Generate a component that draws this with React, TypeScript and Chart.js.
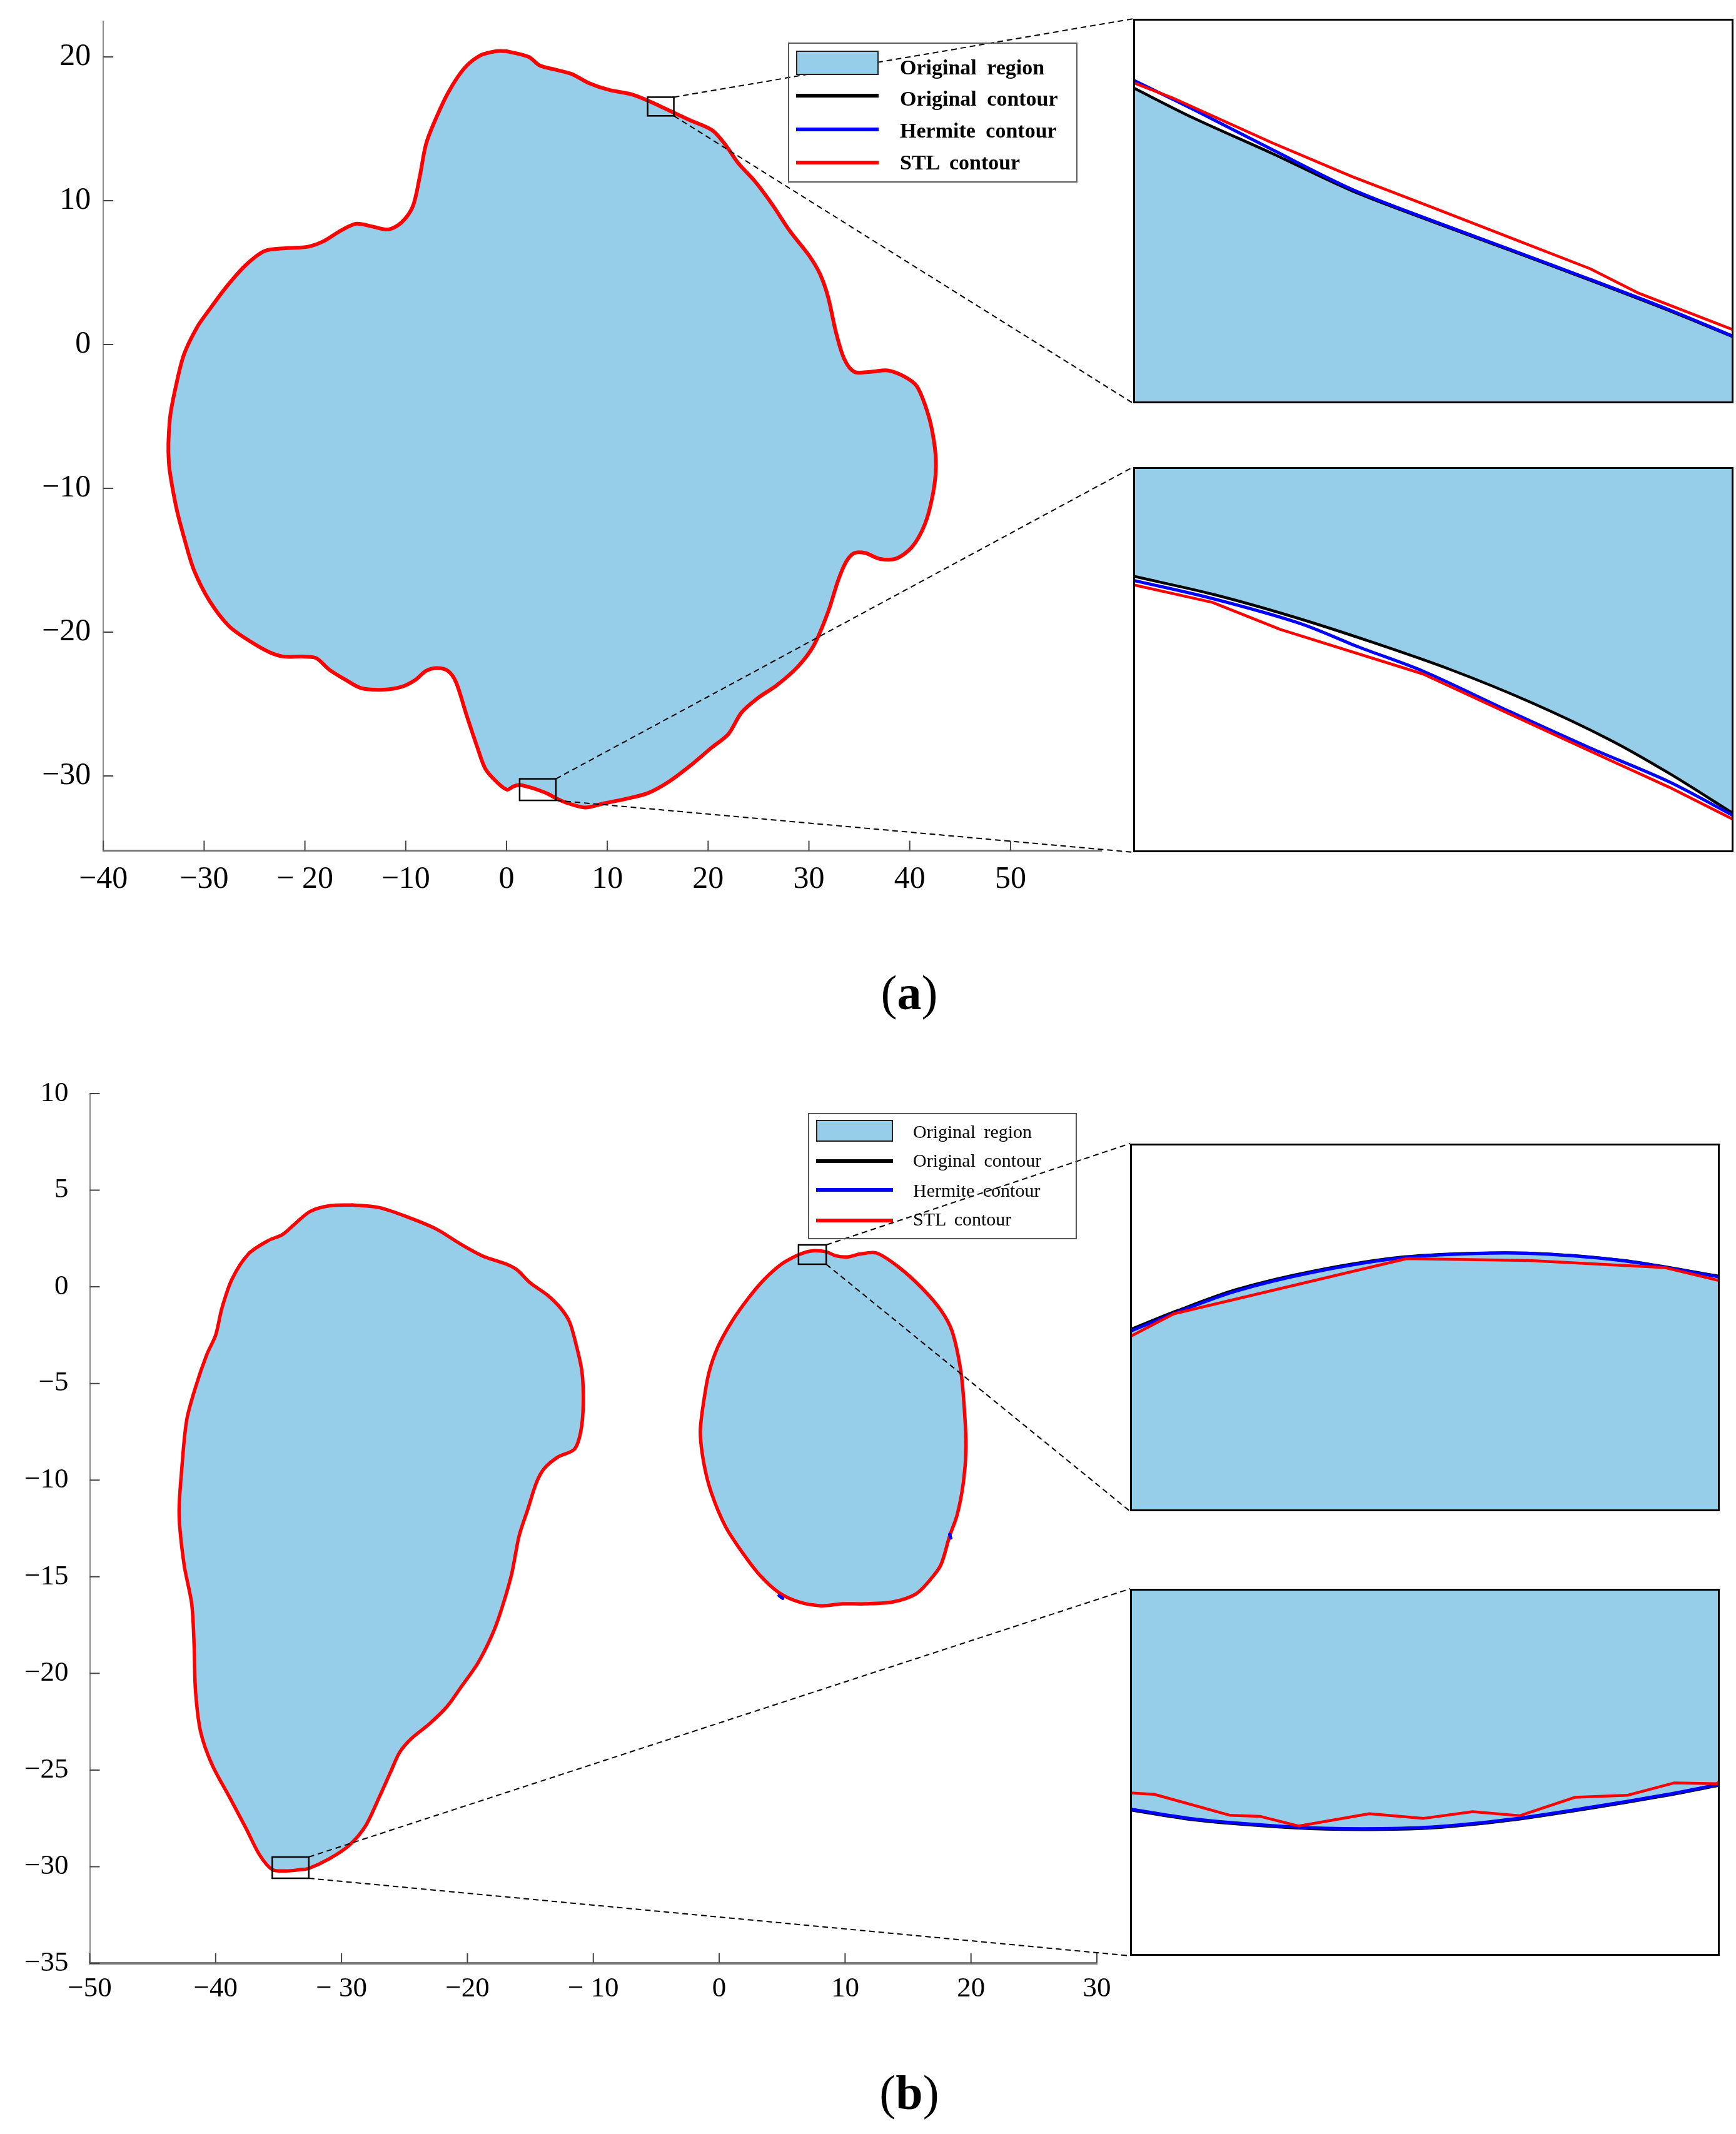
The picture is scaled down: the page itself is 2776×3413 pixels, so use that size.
import React, { useEffect, useRef } from 'react';
import { Chart, registerables } from 'chart.js';
Chart.register(...registerables);

// ---------------- Data (panel a) ----------------
const xTicksA = [-40, -30, -20, -10, 0, 10, 20, 30, 40, 50];
const xTickLabelsA = ['−40', '−30', '− 20', '−10', '0', '10', '20', '30', '40', '50'];
const yTicksA = [-30, -20, -10, 0, 10, 20];
const yTickLabelsA = ['−30', '−20', '−10', '0', '10', '20'];
const xRangeA = [-40, 59];
const yRangeA = [-35.2, 22.5];

const contourA: [number, number][] = [
  [0, 20.4], [2.2, 20.0], [3.3, 19.4], [4.9, 19.1], [6.5, 18.8], [8.1, 18.2], [10.2, 17.7], [12.4, 17.4],
  [14.0, 16.97], [15.3, 16.55], [16.6, 16.12], [18.2, 15.6], [20.4, 14.9], [21.7, 13.9], [23.0, 12.6],
  [24.7, 11.3], [26.3, 9.8], [28.1, 7.9], [30.0, 6.2], [31.1, 4.9], [31.9, 3.3], [32.7, 0.8], [33.5, -1.0],
  [34.5, -1.9], [36.1, -1.9], [37.8, -1.8], [39.4, -2.2], [40.7, -2.9], [41.8, -4.8], [42.4, -6.7],
  [42.6, -8.5], [42.3, -10.4], [41.5, -12.5], [40.2, -14.1], [38.6, -14.9], [37.0, -14.9], [35.6, -14.5],
  [34.5, -14.5], [33.7, -15.1], [32.9, -16.4], [31.9, -18.6], [30.5, -20.9], [28.9, -22.4], [26.8, -23.7],
  [24.9, -24.6], [23.3, -25.6], [22.0, -27.1], [20.4, -28.0], [18.2, -29.3], [16.1, -30.4], [14.0, -31.2],
  [11.8, -31.6], [9.7, -31.9], [7.8, -32.2], [5.9, -31.85], [4.9, -31.55], [4.15, -31.26], [3.2, -30.99],
  [2.25, -30.78], [1.3, -30.63], [0.7, -30.72], [0.05, -30.95], [-1.0, -30.4], [-2.1, -29.5], [-2.9, -28.0],
  [-4.0, -25.7], [-5.0, -23.5], [-5.8, -22.7], [-6.9, -22.5], [-8.0, -22.7], [-9.0, -23.3], [-10.4, -23.8],
  [-12.2, -24.0], [-14.4, -23.9], [-16.0, -23.3], [-17.6, -22.6], [-18.9, -21.8], [-20.3, -21.7],
  [-22.1, -21.7], [-23.5, -21.4], [-25.3, -20.7], [-27.5, -19.6], [-29.4, -17.9], [-31.0, -15.7],
  [-32.0, -13.4], [-32.8, -11.2], [-33.5, -8.2], [-33.4, -5.2], [-32.8, -2.9], [-32.0, -0.7], [-30.7, 1.2],
  [-29.4, 2.5], [-27.8, 4.0], [-25.9, 5.5], [-24.0, 6.5], [-21.9, 6.7], [-19.7, 6.8], [-18.1, 7.2],
  [-16.5, 7.9], [-14.9, 8.4], [-13.3, 8.2], [-11.7, 8.0], [-10.4, 8.5], [-9.3, 9.6], [-8.6, 11.7],
  [-8.0, 13.9], [-7.2, 15.4], [-5.8, 17.5], [-4.2, 19.2], [-2.6, 20.1], [-1.0, 20.4], [0, 20.4],
];

// zoom windows (data ranges) of panel a
const zoomA1X = [14.0, 16.6];
const zoomA1Y = [15.9, 17.2];
const zoomA2X = [1.3, 4.9];
const zoomA2Y = [-31.7, -30.2];

const insetA1Original: [number, number][] = [
  [14.0, 16.967], [14.257, 16.866], [14.601, 16.745], [14.946, 16.619], [15.29, 16.516],
  [15.633, 16.417], [15.979, 16.316], [16.322, 16.213], [16.6, 16.124],
];
const insetA1Hermite: [number, number][] = [
  [14.0, 16.993], [14.257, 16.895], [14.601, 16.758], [14.946, 16.624], [15.29, 16.519],
  [15.633, 16.42], [15.979, 16.319], [16.322, 16.216], [16.6, 16.126],
];
const insetA1Stl: [number, number][] = [
  [14.0, 16.984], [14.172, 16.932], [14.601, 16.781], [14.946, 16.667], [15.29, 16.564],
  [15.633, 16.46], [15.979, 16.355], [16.184, 16.274], [16.6, 16.148],
];
const insetA2Original: [number, number][] = [
  [1.3, -30.625], [1.775, -30.695], [2.254, -30.782], [2.729, -30.881], [3.204, -30.989],
  [3.68, -31.115], [4.158, -31.262], [4.515, -31.393], [4.9, -31.55],
];
const insetA2Hermite: [number, number][] = [
  [1.3, -30.641], [1.775, -30.712], [2.301, -30.809], [2.657, -30.902], [3.039, -30.995],
  [3.561, -31.153], [4.04, -31.294], [4.515, -31.426], [4.9, -31.558],
];
const insetA2Stl: [number, number][] = [
  [1.3, -30.658], [1.775, -30.727], [2.182, -30.832], [3.039, -31.006], [3.568, -31.165],
  [4.04, -31.306], [4.515, -31.447], [4.9, -31.573],
];

// ---------------- Data (panel b) ----------------
const xTicksB = [-50, -40, -30, -20, -10, 0, 10, 20, 30];
const xTickLabelsB = ['−50', '−40', '− 30', '−20', '− 10', '0', '10', '20', '30'];
const yTicksB = [-35, -30, -25, -20, -15, -10, -5, 0, 5, 10];
const yTickLabelsB = ['−35', '−30', '−25', '−20', '−15', '−10', '−5', '0', '5', '10'];
const xRangeB = [-50, 30];
const yRangeB = [-35, 10];

const contourBLeft: [number, number][] = [
  [-29.2, 4.24], [-27.0, 4.1], [-24.7, 3.6], [-22.5, 3.0], [-20.5, 2.2], [-18.8, 1.6], [-17.0, 1.2],
  [-16.1, 0.9], [-15.0, 0.2], [-13.7, -0.4], [-12.6, -1.1], [-11.9, -1.8], [-11.4, -2.9], [-10.9, -4.4],
  [-10.8, -6.1], [-11.0, -7.5], [-11.5, -8.4], [-12.8, -8.8], [-13.9, -9.4], [-14.5, -10.1], [-15.2, -11.5],
  [-15.9, -12.9], [-16.5, -14.9], [-17.4, -16.9], [-18.1, -18.1], [-19.2, -19.5], [-20.5, -20.7],
  [-21.6, -21.7], [-23.0, -22.6], [-24.5, -23.4], [-25.4, -24.1], [-26.1, -25.1], [-27.0, -26.4],
  [-28.1, -27.9], [-29.4, -28.9], [-31.0, -29.6], [-32.6, -30.09], [-33.2, -30.15], [-34.4, -30.22],
  [-35.5, -30.15], [-36.5, -29.4], [-37.6, -28.0], [-38.9, -26.4], [-40.3, -24.7], [-41.2, -23.0],
  [-41.6, -20.9], [-41.7, -18.7], [-41.9, -16.4], [-42.5, -14.4], [-42.9, -11.8], [-42.7, -9.5],
  [-42.3, -6.9], [-41.6, -5.2], [-40.7, -3.5], [-40.0, -2.5], [-39.5, -1.1], [-38.7, 0.4], [-37.4, 1.7],
  [-35.8, 2.4], [-34.7, 2.7], [-33.8, 3.2], [-32.5, 3.9], [-30.9, 4.2], [-29.2, 4.24],
];
const contourBRight: [number, number][] = [
  [7.0, 1.82], [7.6, 1.87], [8.5, 1.81], [9.3, 1.6], [10.2, 1.55], [11.2, 1.7], [12.5, 1.75], [14.3, 1.0],
  [16.1, -0.06], [17.6, -1.2], [18.5, -2.3], [19.2, -4.4], [19.5, -6.6], [19.6, -8.4], [19.4, -10.1],
  [18.9, -11.8], [18.3, -12.9], [17.6, -14.4], [16.7, -15.2], [15.6, -15.9], [13.8, -16.3], [11.6, -16.4],
  [9.8, -16.4], [8.1, -16.5], [6.3, -16.3], [4.7, -15.8], [3.2, -14.9], [1.9, -13.8], [0.5, -12.4],
  [-0.6, -10.7], [-1.2, -9.2], [-1.5, -7.5], [-1.2, -5.8], [-0.8, -4.4], [-0.1, -3.1], [1.0, -1.8],
  [2.3, -0.6], [3.6, 0.4], [5.0, 1.2], [6.3, 1.66], [7.0, 1.82],
];
const hermiteSpeckB1: [number, number][] = [[4.75, -15.98], [5.05, -16.12]];
const hermiteSpeckB2: [number, number][] = [[18.3, -12.8], [18.4, -13.0]];

const zoomB1X = [6.3, 8.5];
const zoomB1Y = [1.17, 2.17];
const zoomB2X = [-35.5, -32.6];
const zoomB2Y = [-30.6, -29.5];

const insetB1Original: [number, number][] = [
  [6.3, 1.664], [6.478, 1.716], [6.696, 1.773], [6.989, 1.824], [7.323, 1.862], [7.644, 1.873],
  [7.862, 1.87], [8.155, 1.851], [8.5, 1.809],
];
const insetB1Hermite: [number, number][] = [
  [6.3, 1.659], [6.478, 1.712], [6.696, 1.769], [6.989, 1.821], [7.323, 1.86], [7.644, 1.872],
  [7.862, 1.869], [8.155, 1.85], [8.5, 1.807],
];
const insetB1Stl: [number, number][] = [
  [6.3, 1.645], [6.463, 1.707], [7.332, 1.857], [7.789, 1.852], [8.293, 1.833], [8.5, 1.797],
];
const insetB2Original: [number, number][] = [
  [-35.5, -30.163], [-35.169, -30.194], [-34.688, -30.217], [-34.363, -30.222], [-34.015, -30.217],
  [-33.632, -30.194], [-33.247, -30.159], [-32.864, -30.12], [-32.6, -30.089],
];
const insetB2Hermite: [number, number][] = [
  [-35.5, -30.16], [-35.169, -30.191], [-34.688, -30.214], [-34.363, -30.219], [-34.015, -30.214],
  [-33.632, -30.191], [-33.247, -30.156], [-32.864, -30.117], [-32.6, -30.086],
];
const insetB2Stl: [number, number][] = [
  [-35.5, -30.112], [-35.381, -30.116], [-35.007, -30.179], [-34.862, -30.182], [-34.671, -30.211],
  [-34.323, -30.174], [-34.056, -30.188], [-33.815, -30.168], [-33.583, -30.18], [-33.313, -30.125],
  [-33.055, -30.119], [-32.826, -30.082], [-32.614, -30.084], [-32.6, -30.076],
];

const legendLabels = ['Original region', 'Original contour', 'Hermite contour', 'STL contour'];

// ---------------- Styles / layout ----------------
const FILL = '#96CDE8';
const RED = '#FF0000';
const BLUE = '#0000FF';
const BLACK = '#000000';
const SERIF = '"Liberation Serif", "Times New Roman", serif';

const CANVAS_A = { left: 0, top: 0, width: 2776, height: 1500 };
const CANVAS_B = { left: 0, top: 1650, width: 2776, height: 1650 };
const INSET_A1 = { left: 1812, top: 30, width: 960, height: 615 };
const INSET_A2 = { left: 1812, top: 747, width: 960, height: 616 };
const INSET_B1 = { left: 1807, top: 1829, width: 943, height: 588 };
const INSET_B2 = { left: 1807, top: 2541, width: 943, height: 587 };

const pts = (a: [number, number][]) => a.map(([x, y]) => ({ x, y }));

function lineDs(label: string, data: [number, number][], color: string, width: number, tension: number, extra: any = {}) {
  return {
    label,
    data: pts(data),
    showLine: true,
    borderColor: color,
    borderWidth: width,
    pointRadius: 0,
    pointHoverRadius: 0,
    tension,
    fill: false,
    borderJoinStyle: 'round',
    borderCapStyle: 'round',
    ...extra,
  };
}

function inwardTicks(len: number, color: string, width: number) {
  return {
    id: 'inwardTicks',
    afterDraw(chart: any) {
      const { ctx, chartArea } = chart;
      const xs = chart.scales.x;
      const ys = chart.scales.y;
      ctx.save();
      ctx.strokeStyle = color;
      ctx.lineWidth = width;
      ctx.beginPath();
      xs.ticks.forEach((t: any) => {
        const px = xs.getPixelForValue(t.value);
        ctx.moveTo(px, chartArea.bottom);
        ctx.lineTo(px, chartArea.bottom - len);
      });
      ys.ticks.forEach((t: any) => {
        const py = ys.getPixelForValue(t.value);
        ctx.moveTo(chartArea.left, py);
        ctx.lineTo(chartArea.left + len, py);
      });
      ctx.stroke();
      ctx.restore();
    },
  };
}

function zoomLinks(boxes: { x: number[]; y: number[]; inset: any }[], canvasTop: number) {
  return {
    id: 'zoomLinks',
    afterDatasetsDraw(chart: any) {
      const { ctx } = chart;
      const xs = chart.scales.x;
      const ys = chart.scales.y;
      boxes.forEach((b) => {
        const x0 = xs.getPixelForValue(b.x[0]);
        const x1 = xs.getPixelForValue(b.x[1]);
        const yTop = ys.getPixelForValue(b.y[1]);
        const yBot = ys.getPixelForValue(b.y[0]);
        ctx.save();
        ctx.strokeStyle = '#000';
        ctx.lineWidth = 2.5;
        ctx.strokeRect(x0, yTop, x1 - x0, yBot - yTop);
        ctx.lineWidth = 2;
        ctx.setLineDash([9, 6]);
        ctx.beginPath();
        ctx.moveTo(x1, yTop);
        ctx.lineTo(b.inset.left, b.inset.top - canvasTop);
        ctx.moveTo(x1, yBot);
        ctx.lineTo(b.inset.left, b.inset.top + b.inset.height - canvasTop);
        ctx.stroke();
        ctx.restore();
      });
    },
  };
}

const frame = {
  id: 'frame',
  afterDraw(chart: any) {
    const { ctx, width, height } = chart;
    ctx.save();
    ctx.strokeStyle = '#000';
    ctx.lineWidth = 3;
    ctx.strokeRect(1.5, 1.5, width - 3, height - 3);
    ctx.restore();
  },
};

function mainConfig(p: any) {
  return {
    type: 'scatter',
    data: { datasets: p.datasets },
    options: {
      responsive: false,
      animation: false,
      devicePixelRatio: 1,
      events: [],
      layout: { padding: p.padding },
      plugins: { legend: { display: false }, tooltip: { enabled: false } },
      scales: {
        x: {
          type: 'linear',
          min: p.xRange[0],
          max: p.xRange[1],
          afterBuildTicks: (s: any) => { s.ticks = p.xTicks.map((v: number) => ({ value: v })); },
          afterFit: (s: any) => { s.height = 120; s.paddingLeft = 0; s.paddingRight = 0; s.paddingTop = 0; s.paddingBottom = 0; },
          grid: { display: false, drawTicks: false },
          border: { display: true, color: '#7a7a7a', width: p.xBorder },
          ticks: {
            padding: p.xPad,
            autoSkip: false,
            maxRotation: 0,
            minRotation: 0,
            color: '#000',
            font: { family: SERIF, size: p.fontSize },
            callback: (_v: any, i: number) => p.xLabels[i],
          },
        },
        y: {
          type: 'linear',
          min: p.yRange[0],
          max: p.yRange[1],
          afterBuildTicks: (s: any) => { s.ticks = p.yTicks.map((v: number) => ({ value: v })); },
          afterFit: (s: any) => { s.width = 120; s.paddingLeft = 0; s.paddingRight = 0; s.paddingTop = 0; s.paddingBottom = 0; },
          grid: { display: false, drawTicks: false },
          border: { display: true, color: '#8a8a8a', width: 2 },
          ticks: {
            padding: p.yPad,
            autoSkip: false,
            color: '#000',
            font: { family: SERIF, size: p.fontSize },
            callback: (_v: any, i: number) => p.yLabels[i],
          },
        },
      },
    },
    plugins: [inwardTicks(16, '#444', 2), zoomLinks(p.boxes, p.canvasTop)],
  };
}

function insetConfig(xr: number[], yr: number[], fillMode: string, original: any, hermite: any, stl: any) {
  return {
    type: 'scatter',
    data: {
      datasets: [
        lineDs(legendLabels[3], stl, RED, 4.5, 0),
        lineDs(legendLabels[2], hermite, BLUE, 5, 0.3),
        lineDs(legendLabels[1], original, BLACK, 4.5, 0.3, { fill: fillMode, backgroundColor: FILL }),
      ],
    },
    options: {
      responsive: false,
      animation: false,
      devicePixelRatio: 1,
      events: [],
      layout: { padding: 0 },
      plugins: { legend: { display: false }, tooltip: { enabled: false } },
      scales: {
        x: { type: 'linear', display: false, min: xr[0], max: xr[1] },
        y: { type: 'linear', display: false, min: yr[0], max: yr[1] },
      },
    },
    plugins: [frame],
  };
}

function ChartCanvas({ box, make }: { box: any; make: () => any }) {
  const ref = useRef<HTMLCanvasElement>(null);
  useEffect(() => {
    const chart = new Chart(ref.current as HTMLCanvasElement, make());
    return () => chart.destroy();
  }, []);
  return (
    <canvas
      ref={ref}
      width={box.width}
      height={box.height}
      style={{ position: 'absolute', left: box.left, top: box.top, width: box.width, height: box.height }}
    />
  );
}

function Legend(p: any) {
  const colors = [BLACK, BLUE, RED];
  return (
    <>
      <div style={{ position: 'absolute', left: p.box[0], top: p.box[1], width: p.box[2], height: p.box[3], border: '2px solid #5a5a5a', boxSizing: 'border-box' }} />
      <div style={{ position: 'absolute', left: p.patch[0], top: p.patch[1], width: p.patch[2], height: p.patch[3], background: FILL, border: '2px solid #222', boxSizing: 'border-box' }} />
      {p.lineYs.map((y: number, i: number) => (
        <div key={'l' + i} style={{ position: 'absolute', left: p.patch[0], top: y - 3, width: p.patch[2], height: 6, background: colors[i] }} />
      ))}
      {legendLabels.map((t: string, i: number) => (
        <div key={'t' + i} style={{ position: 'absolute', left: p.textLeft, top: p.baselines[i] - 0.8375 * p.fontSize, fontFamily: SERIF, fontSize: p.fontSize, lineHeight: 1, fontWeight: p.bold ? 700 : 400, whiteSpace: 'nowrap', wordSpacing: p.wordSpacing, color: '#000' }}>
          {t}
        </div>
      ))}
    </>
  );
}

function PanelLabel({ letter, cy }: { letter: string; cy: number }) {
  const fs = 78;
  return (
    <div style={{ position: 'absolute', left: 1354, width: 200, top: cy - 0.5825 * fs, textAlign: 'center', fontFamily: SERIF, fontSize: fs, lineHeight: 1, color: '#000' }}>
      (<b>{letter}</b>)
    </div>
  );
}

export default function App() {
  const makeA = () =>
    mainConfig({
      datasets: [
        lineDs(legendLabels[3], contourA, RED, 6, 0.3),
        lineDs(legendLabels[2], contourA, BLUE, 3, 0.3),
        lineDs(legendLabels[1], contourA, BLACK, 3, 0.3, { fill: 'shape', backgroundColor: FILL }),
      ],
      padding: { left: 45.2, right: 1015, top: 33.5, bottom: 19.4 },
      xRange: xRangeA, yRange: yRangeA,
      xTicks: xTicksA, yTicks: yTicksA, xLabels: xTickLabelsA, yLabels: yTickLabelsA,
      fontSize: 50, xPad: 16, yPad: 20, xBorder: 3,
      canvasTop: CANVAS_A.top,
      boxes: [
        { x: zoomA1X, y: zoomA1Y, inset: INSET_A1 },
        { x: zoomA2X, y: zoomA2Y, inset: INSET_A2 },
      ],
    });
  const makeB = () =>
    mainConfig({
      datasets: [
        lineDs(legendLabels[2], hermiteSpeckB1, BLUE, 5, 0),
        lineDs(legendLabels[2], hermiteSpeckB2, BLUE, 5, 0),
        lineDs(legendLabels[3], contourBLeft, RED, 5.5, 0.3),
        lineDs(legendLabels[3], contourBRight, RED, 5.5, 0.3),
        lineDs(legendLabels[2], contourBLeft, BLUE, 3, 0.3),
        lineDs(legendLabels[2], contourBRight, BLUE, 3, 0.3),
        lineDs(legendLabels[1], contourBLeft, BLACK, 3, 0.3, { fill: 'shape', backgroundColor: FILL }),
        lineDs(legendLabels[1], contourBRight, BLACK, 3, 0.3, { fill: 'shape', backgroundColor: FILL }),
      ],
      padding: { left: 23.5, right: 1022, top: 99, bottom: 40 },
      xRange: xRangeB, yRange: yRangeB,
      xTicks: xTicksB, yTicks: yTicksB, xLabels: xTickLabelsB, yLabels: yTickLabelsB,
      fontSize: 45, xPad: 14, yPad: 34, xBorder: 4,
      canvasTop: CANVAS_B.top,
      boxes: [
        { x: zoomB1X, y: zoomB1Y, inset: INSET_B1 },
        { x: zoomB2X, y: zoomB2Y, inset: INSET_B2 },
      ],
    });

  return (
    <div style={{ position: 'absolute', left: 0, top: 0, width: 2776, height: 3413, background: '#fff', overflow: 'hidden' }}>
      <ChartCanvas box={CANVAS_A} make={makeA} />
      <ChartCanvas box={INSET_A1} make={() => insetConfig(zoomA1X, zoomA1Y, 'start', insetA1Original, insetA1Hermite, insetA1Stl)} />
      <ChartCanvas box={INSET_A2} make={() => insetConfig(zoomA2X, zoomA2Y, 'end', insetA2Original, insetA2Hermite, insetA2Stl)} />
      <Legend box={[1260, 68, 463, 224]} patch={[1273, 81, 132, 39]} lineYs={[153, 207, 260]} textLeft={1439} baselines={[119, 169.5, 220, 271]} fontSize={34} bold wordSpacing={8} />
      <PanelLabel letter="a" cy={1594} />

      <ChartCanvas box={CANVAS_B} make={makeB} />
      <ChartCanvas box={INSET_B1} make={() => insetConfig(zoomB1X, zoomB1Y, 'start', insetB1Original, insetB1Hermite, insetB1Stl)} />
      <ChartCanvas box={INSET_B2} make={() => insetConfig(zoomB2X, zoomB2Y, 'end', insetB2Original, insetB2Hermite, insetB2Stl)} />
      <Legend box={[1292, 1780, 430, 202]} patch={[1305, 1791, 123, 35]} lineYs={[1857, 1903, 1952]} textLeft={1460} baselines={[1820.6, 1866.6, 1914.3, 1959.7]} fontSize={30} bold={false} wordSpacing={6} />
      <PanelLabel letter="b" cy={3353} />
    </div>
  );
}
